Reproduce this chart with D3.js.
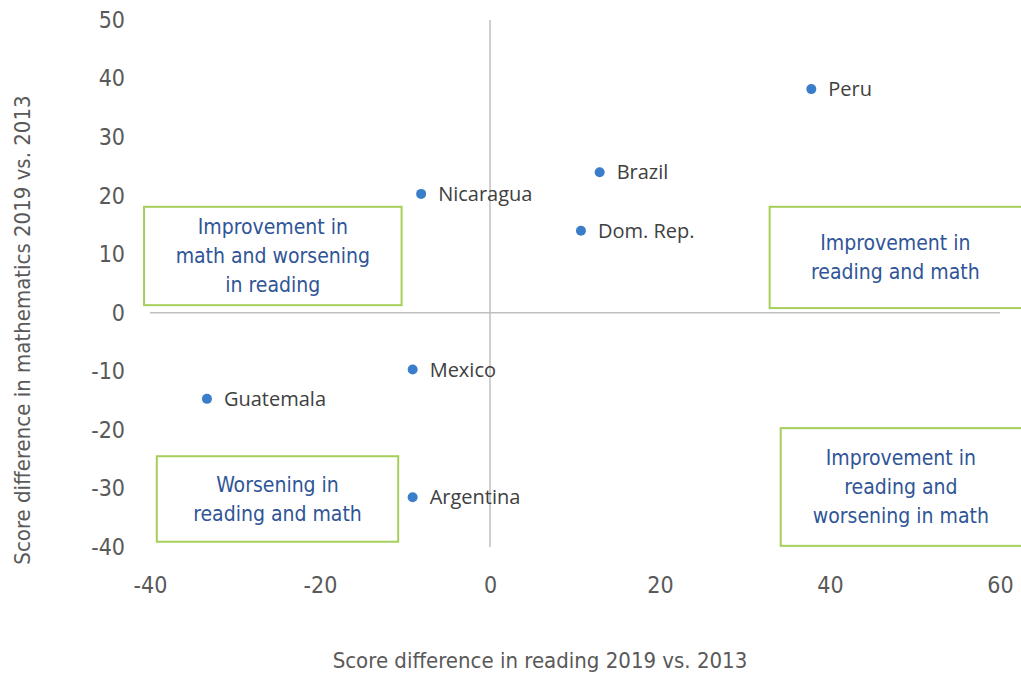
<!DOCTYPE html>
<html><head><meta charset="utf-8">
<script src="https://cdn.jsdelivr.net/npm/d3@7"></script>
<style>
body{margin:0;background:#fff;}
.cond{font-family:"Liberation Sans Narrow","DejaVu Sans Condensed","Roboto Condensed",Roboto,sans-serif;}
</style></head>
<body><svg id="c" width="1021" height="674"></svg>
<script>
const countries = ["Peru","Brazil","Nicaragua","Dom. Rep.","Mexico","Guatemala","Argentina"];
const readingDiff = [37.8, 12.9, -8.1, 10.7, -9.1, -33.3, -9.1];
const mathDiff = [38.2, 24.0, 20.3, 14.0, -9.7, -14.7, -31.5];
const xTicks = [-40,-20,0,20,40,60];
const yTicks = [50,40,30,20,10,0,-10,-20,-30,-40];
const quadrantLabels = [
  ["Improvement in","math and worsening","in reading"],
  ["Improvement in","reading and math"],
  ["Improvement in","reading and","worsening in math"],
  ["Worsening in","reading and math"]
];
// box extents in data units [x0,x1,y0,y1]
const quadrantBoxes = [[-40.7,-10.4,18.1,1.3],[32.9,63,18.1,0.8],[34.2,63,-19.7,-39.8],[-39.2,-10.8,-24.5,-39.1]];

const svg = d3.select("#c");
const x = d3.scaleLinear().domain([-40,60]).range([150,1000]);
const y = d3.scaleLinear().domain([-40,50]).range([547,20]);

const tickColor = "#595959";
svg.append("line").attr("x1",x(-40)).attr("x2",x(60)).attr("y1",y(0)).attr("y2",y(0))
  .attr("stroke","#bfbfbf").attr("stroke-width",1.5);
svg.append("line").attr("x1",x(0)).attr("x2",x(0)).attr("y1",y(50)).attr("y2",y(-40))
  .attr("stroke","#bfbfbf").attr("stroke-width",1.5);

const fmt = d => String(d);
const xAxis = svg.append("g").attr("transform",`translate(0,${585})`)
  .call(d3.axisBottom(x).tickValues(xTicks).tickSize(0).tickPadding(0).tickFormat(fmt));
xAxis.select(".domain").remove();
xAxis.selectAll("text").attr("class","cond").attr("font-size",23).attr("fill",tickColor).attr("dy","0.35em").attr("y",0);

const yAxis = svg.append("g").attr("transform",`translate(${125},0)`)
  .call(d3.axisLeft(y).tickValues(yTicks).tickSize(0).tickPadding(0).tickFormat(fmt));
yAxis.select(".domain").remove();
yAxis.selectAll("text").attr("class","cond").attr("font-size",23).attr("fill",tickColor).attr("x",0);

svg.append("text").attr("class","cond").attr("x",540).attr("y",668).attr("text-anchor","middle")
  .attr("font-size",22).attr("fill",tickColor).text("Score difference in reading 2019 vs. 2013");
svg.append("text").attr("class","cond").attr("transform","translate(30,330) rotate(-90)")
  .attr("text-anchor","middle").attr("font-size",22).attr("fill",tickColor)
  .text("Score difference in mathematics 2019 vs. 2013");

quadrantBoxes.forEach((b,i)=>{
  const x0=x(b[0]), x1=x(b[1]), y0=y(b[2]), y1=y(b[3]);
  svg.append("rect").attr("x",x0).attr("y",y0).attr("width",x1-x0).attr("height",y1-y0)
    .attr("fill","#fff").attr("stroke","#a5cf5a").attr("stroke-width",2);
  const lines = quadrantLabels[i];
  const cx = i==1||i==2 ? (x0+Math.min(x1,1021))/2 : (x0+x1)/2;
  const cy = (y0+y1)/2;
  const lh = 29;
  const t = svg.append("text").attr("class","cond").attr("text-anchor","middle")
    .attr("font-size",21).attr("fill","#2f5597");
  lines.forEach((l,j)=>{
    t.append("tspan").attr("x",cx).attr("y",cy+(j-(lines.length-1)/2)*lh).attr("dy","0.35em").text(l);
  });
});

const pts = countries.map((c,i)=>({c, r:readingDiff[i], m:mathDiff[i]}));
svg.selectAll("circle.pt").data(pts).join("circle").attr("class","pt")
  .attr("cx",d=>x(d.r)).attr("cy",d=>y(d.m)).attr("r",5).attr("fill","#3a7dc9");
svg.selectAll("text.lbl").data(pts).join("text").attr("class","lbl")
  .attr("x",d=>x(d.r)+17).attr("y",d=>y(d.m)).attr("dy","0.35em")
  .attr("font-family","'Open Sans',sans-serif").attr("font-size",20).attr("fill","#404040")
  .text(d=>d.c);
</script></body></html>
